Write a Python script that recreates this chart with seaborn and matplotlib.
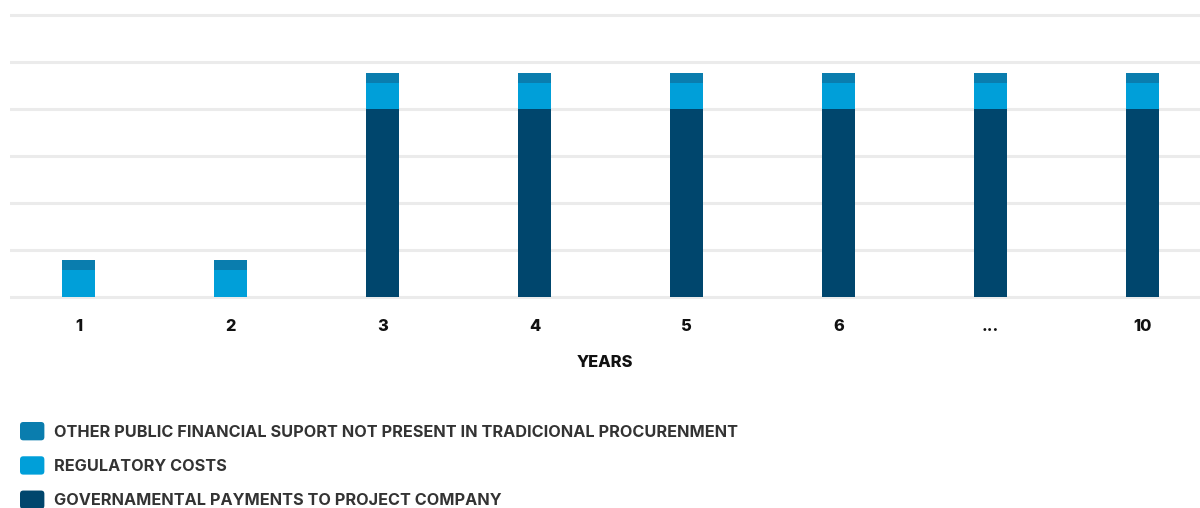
import matplotlib
matplotlib.use("Agg")
import matplotlib.pyplot as plt
import seaborn as sns
import pandas as pd
from matplotlib.patches import Patch, FancyBboxPatch
from matplotlib.legend_handler import HandlerPatch

# Cash-flow components per year
years = ["1", "2", "3", "4", "5", "6", "...", "10"]
governmental = [0.0, 0.0, 4.0, 4.0, 4.0, 4.0, 4.0, 4.0]
regulatory = [0.56, 0.56, 0.55, 0.55, 0.55, 0.55, 0.55, 0.55]
other_support = [0.22, 0.22, 0.21, 0.21, 0.21, 0.21, 0.21, 0.21]

series_labels = [
    "OTHER PUBLIC FINANCIAL SUPORT NOT PRESENT IN TRADICIONAL PROCURENMENT",
    "REGULATORY COSTS",
    "GOVERNAMENTAL PAYMENTS TO PROJECT COMPANY",
]
series_colors = ["#0A7DAE", "#009FD9", "#00466D"]

sns.set_theme(style="white")
plt.rcParams["font.family"] = ["Inter", "DejaVu Sans"]

df = pd.DataFrame({
    "year": years,
    "gov": governmental,
    "reg": regulatory,
    "other": other_support,
})
df["top_other"] = df["gov"] + df["reg"] + df["other"]
df["top_reg"] = df["gov"] + df["reg"]

fig = plt.figure(figsize=(12, 5.08), dpi=100)
ax = fig.add_axes([10 / 1200, 0.4067, 1 - 10 / 1200, 0.5823])

# Stacked bars: draw cumulative totals from the tallest layer down
bar_w = 0.217
sns.barplot(data=df, x="year", y="top_other", color=series_colors[0],
            width=bar_w, saturation=1, ax=ax, linewidth=0)
sns.barplot(data=df, x="year", y="top_reg", color=series_colors[1],
            width=bar_w, saturation=1, ax=ax, linewidth=0)
sns.barplot(data=df, x="year", y="gov", color=series_colors[2],
            width=bar_w, saturation=1, ax=ax, linewidth=0)

ax.set_ylim(-0.1, 6.2)
ax.set_xlim(-0.454, 7.38)
ax.set_yticks(range(0, 7))
ax.yaxis.grid(True, color="#EBEBEB", linewidth=2.2)
ax.set_axisbelow(True)
ax.tick_params(axis="y", left=False, labelleft=False)
ax.tick_params(axis="x", length=0, pad=13, labelsize=11.8, labelcolor="#111111")
for lbl in ax.get_xticklabels():
    lbl.set_fontweight("heavy")
for s in ax.spines.values():
    s.set_visible(False)
ax.set_ylabel("")
ax.set_xlabel("YEARS", fontsize=11.8, fontweight="heavy", color="#111111", labelpad=15)


class RoundedSquareHandler(HandlerPatch):
    def create_artists(self, legend, orig_handle, xdescent, ydescent,
                       width, height, fontsize, trans):
        r = 0.18 * height
        p = FancyBboxPatch((-xdescent + r, -ydescent + r), width - 2 * r, height - 2 * r,
                           boxstyle=f"round,pad={r},rounding_size={r}",
                           facecolor=orig_handle.get_facecolor(), edgecolor="none",
                           transform=trans)
        return [p]


handles = [Patch(facecolor=c, label=l) for c, l in zip(series_colors, series_labels)]
leg_fs = 11.7
leg = fig.legend(handles=handles, loc="upper left",
                 bbox_to_anchor=(20 / 1200, 1 - 422 / 508),
                 frameon=False, borderpad=0, borderaxespad=0,
                 handlelength=1.5, handleheight=1.36, handletextpad=0.6,
                 labelspacing=0.98, fontsize=leg_fs,
                 handler_map={Patch: RoundedSquareHandler()})
for t in leg.get_texts():
    t.set_fontweight("bold")
    t.set_color("#333333")

fig.savefig("out.png", dpi=100)
